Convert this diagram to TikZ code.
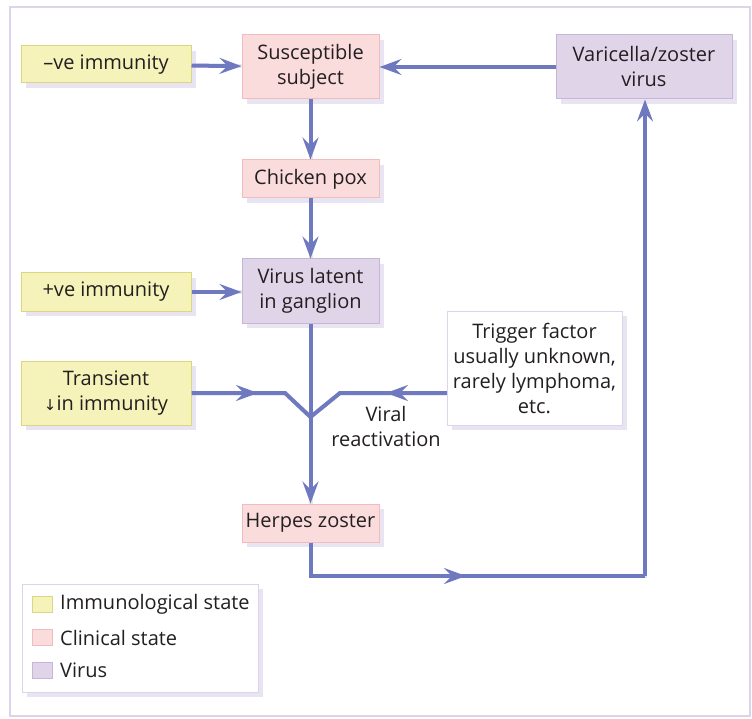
\documentclass[tikz,border=0pt]{standalone}
\usepackage{fontspec}
\setmainfont{Open Sans}
\newfontfamily\symfont{DejaVu Sans}
\usetikzlibrary{arrows.meta,shadows}
\definecolor{yfill}{HTML}{F5F3B9}
\definecolor{ydraw}{HTML}{DCD682}
\definecolor{pfill}{HTML}{FBDCDD}
\definecolor{pdraw}{HTML}{F2BCBE}
\definecolor{vfill}{HTML}{E0D4E8}
\definecolor{vdraw}{HTML}{C8B6DA}
\definecolor{arrc}{HTML}{6F79C0}
\definecolor{framec}{HTML}{DDD3EA}
\definecolor{shadowc}{HTML}{E8E4F1}
\definecolor{txt}{HTML}{231F20}
\begin{document}
\begin{tikzpicture}[x=1pt,y=-1pt,
  txtfont/.style={font=\fontsize{20}{25}\selectfont, text=txt},
  box/.style={draw, line width=1pt, inner sep=0pt, align=center, txtfont,
    drop shadow={shadow xshift=5pt, shadow yshift=-5pt, fill=shadowc, opacity=1}},
  immu/.style={box, fill=yfill, draw=ydraw},
  clin/.style={box, fill=pfill, draw=pdraw},
  viru/.style={box, fill=vfill, draw=vdraw},
  note/.style={box, fill=white, draw=framec},
  conn/.style={draw=arrc, line width=4pt, line join=miter},
  shline/.style={draw=shadowc, line width=4pt, line join=miter},
  arr/.style={conn, -{Stealth[length=22pt,width=16pt,inset=8pt]}},
  legsq/.style={draw, line width=1pt, minimum width=20pt, minimum height=16pt, inner sep=0pt},
  legtxt/.style={anchor=west, inner sep=0pt, txtfont}
]
\useasboundingbox (0,0) rectangle (752,719);
\draw[framec, line width=1.5pt] (10,7) rectangle (750,716);

% nodes
\node[immu, minimum width=170pt, minimum height=37pt] (neg) at (106,64.5) {–ve immunity};
\node[clin, minimum width=137pt, minimum height=64pt] (sus) at (310.5,67) {Susceptible\\subject};
\node[viru, minimum width=176pt, minimum height=64pt] (vzv) at (644,67) {Varicella/zoster\\virus};
\node[clin, minimum width=137pt, minimum height=38pt] (chk) at (310.5,179) {Chicken pox};
\node[immu, minimum width=170pt, minimum height=38pt] (pos) at (106,292) {+ve immunity};
\node[viru, minimum width=137pt, minimum height=64pt] (lat) at (310.5,291) {Virus latent\\in ganglion};
\node[immu, minimum width=170pt, minimum height=64pt] (trn) at (106,393) {Transient\\{\symfont\fontsize{15}{15}\selectfont ↓}in immunity};
\node[note, minimum width=175pt, minimum height=114pt] (trg) at (534.5,368) {Trigger factor\\usually unknown,\\rarely lymphoma,\\etc.};
\node[clin, minimum width=137pt, minimum height=38pt] (hz) at (310.5,523) {Herpes zoster};
\node[align=center, inner sep=0pt, txtfont] (vr) at (386,426.5) {Viral\\reactivation};

% connector helper coordinates
\coordinate (J) at (310.5,417);
\coordinate (tm) at (258,393);
\coordinate (tb) at (285,393);
\coordinate (gm) at (386,393);
\coordinate (gb) at (340,393);
\coordinate (hm) at (466,576);
\coordinate (hc) at (645,576);

% connector shadows
\begin{scope}[shift={(3,3)}]
\draw[shline] (neg) -- (sus);
\draw[shline] (vzv) -- (sus);
\draw[shline] (sus) -- (chk);
\draw[shline] (chk) -- (lat);
\draw[shline] (pos.east) -- (pos.east -| lat.west);
\draw[shline] (lat) -- (hz);
\draw[shline] (trn.east) -- (tb) -- (J);
\draw[shline] (gb -| trg.west) -- (gb) -- (J);
\draw[shline] (hz.south) |- (hc) -- (hc |- vzv.south);
\end{scope}

% connectors
\draw[arr] (neg) -- (sus);
\draw[arr] (vzv) -- (sus);
\draw[arr] (sus) -- (chk);
\draw[arr] (chk) -- (lat);
\draw[arr] (pos.east) -- (pos.east -| lat.west);
\draw[arr] (lat) -- (hz);
\draw[conn] (trn.east) -- (tb) -- (J);
\draw[arr] (trn.east) -- (tm);
\draw[conn] (gb -| trg.west) -- (gb) -- (J);
\draw[arr] (gb -| trg.west) -- (gm);
\draw[conn] (hz.south) |- (hc);
\draw[arr] (hz.south) |- (hm);
\draw[arr] (hc) -- (hc |- vzv.south);

% legend
\node[note, minimum width=236pt, minimum height=108pt] (leg) at (140,638) {};
\node[legsq, fill=yfill, draw=ydraw] (l1) at (42.5,604.5) {};
\node[legsq, fill=pfill, draw=pdraw] (l2) at (42.5,637.5) {};
\node[legsq, fill=vfill, draw=vdraw] (l3) at (42.5,670.5) {};
\node[legtxt] (t1) at (60,604.5) {Immunological state};
\node[legtxt] (t2) at (60,637.5) {Clinical state};
\node[legtxt] (t3) at (60,670.5) {Virus};
\end{tikzpicture}
\end{document}
